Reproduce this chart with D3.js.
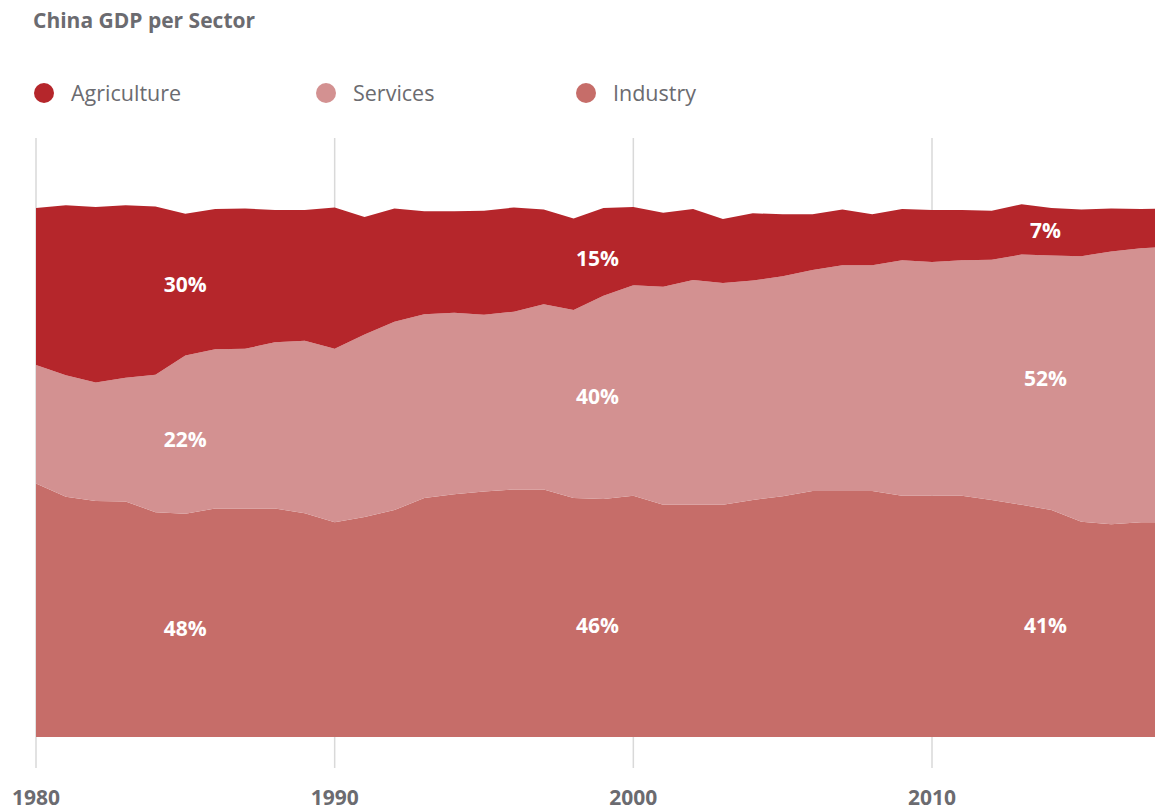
<!DOCTYPE html>
<html>
<head>
<meta charset="utf-8">
<script src="https://cdn.jsdelivr.net/npm/d3@7/dist/d3.min.js"></script>
<style>
  html, body { margin: 0; padding: 0; background: #fff; overflow: hidden; }
  svg { display: block; font-family: "Open Sans", "Noto Sans", sans-serif; }
</style>
</head>
<body>
<svg id="chart" width="1155" height="811"></svg>
<script>
// Share of GDP by sector, China (%)
const years = d3.range(1980, 2019);
const agriculture = [29.7, 32.1, 33.2, 32.6, 31.8, 26.8, 26.5, 26.5, 25.0, 24.7,
  26.7, 22.2, 21.4, 19.5, 19.2, 19.7, 19.7, 17.9, 17.3, 16.6,
  14.8, 14.0, 13.4, 12.1, 12.7, 11.7, 10.5, 10.5, 9.6, 9.7,
  9.8, 9.5, 9.3, 9.5, 9.0, 8.8, 8.1, 7.4, 7.2];
const services = [22.4, 23.0, 22.4, 23.4, 26.0, 29.9, 30.1, 30.2, 31.4, 32.6,
  32.8, 34.5, 35.6, 34.7, 34.3, 33.4, 33.6, 35.0, 35.5, 38.4,
  39.8, 41.2, 42.5, 41.9, 41.5, 41.6, 41.8, 42.7, 42.7, 44.5,
  44.2, 44.5, 45.4, 47.3, 48.1, 50.2, 51.6, 51.8, 52.1];
const industry = [47.9, 45.4, 44.6, 44.5, 42.5, 42.2, 43.2, 43.2, 43.2, 42.3,
  40.6, 41.6, 42.9, 45.2, 45.9, 46.4, 46.8, 46.8, 45.2, 45.0,
  45.6, 43.9, 43.9, 43.9, 44.8, 45.5, 46.5, 46.5, 46.5, 45.6,
  45.6, 45.6, 44.8, 43.9, 42.9, 40.7, 40.2, 40.6, 40.6];

const tickYears = [1980, 1990, 2000, 2010];
const legendNames = ["Agriculture", "Services", "Industry"];
// years whose values are written on the areas, and where the text sits
const labelYears = [1980, 2000, 2017];
const labelPlaceYears = [1985, 1998.8, 2013.8];

const colors = { Agriculture: "#b5262b", Services: "#d39191", Industry: "#c66d69" };

const rows = years.map((y, i) => ({
  year: y, Industry: industry[i], Services: services[i], Agriculture: agriculture[i]
}));

const svg = d3.select("#chart");

const x = d3.scaleLinear().domain([1980, 2010]).range([36, 932]);
const y = d3.scaleLinear().domain([0, 100]).range([737, 208]);

// vertical guide lines behind the areas
svg.append("g").selectAll("line").data(tickYears).join("line")
  .attr("x1", d => x(d)).attr("x2", d => x(d))
  .attr("y1", 138).attr("y2", 768)
  .attr("stroke", "#d9d9d9").attr("stroke-width", 1.5);

const stack = d3.stack().keys(["Industry", "Services", "Agriculture"]);
const layers = stack(rows);

const area = d3.area()
  .x(d => x(d.data.year))
  .y0(d => y(d[0]))
  .y1(d => y(d[1]));

svg.append("g").selectAll("path").data(layers).join("path")
  .attr("d", area)
  .attr("fill", d => colors[d.key]);

// value labels inside each band
const labels = [];
layers.forEach(layer => {
  labelYears.forEach((yr, j) => {
    const idx = years.indexOf(yr);
    const v = layer[idx].data[layer.key];
    labels.push({ key: layer.key, text: Math.round(v) + "%", col: j });
  });
});
// vertical anchors (percent units) for each band and column
const labelAnchor = {
  Agriculture: [85.5, 90.5, 95.8],
  Services: [56.3, 64.3, 67.7],
  Industry: [20.6, 21.0, 21.0]
};
svg.append("g").selectAll("text").data(labels).join("text")
  .attr("x", d => x(labelPlaceYears[d.col]))
  .attr("y", d => y(labelAnchor[d.key][d.col]))
  .attr("dy", "0.36em")
  .attr("text-anchor", "middle")
  .attr("fill", "#ffffff")
  .attr("font-size", 21)
  .attr("font-weight", 700)
  .text(d => d.text);

// x axis labels
svg.append("g").selectAll("text").data(tickYears).join("text")
  .attr("x", d => x(d))
  .attr("y", 805)
  .attr("text-anchor", "middle")
  .attr("fill", "#6b6b70")
  .attr("font-size", 21)
  .attr("font-weight", 700)
  .text(d => d);

// title
svg.append("text")
  .attr("x", 33).attr("y", 28)
  .attr("fill", "#6b6b70")
  .attr("font-size", 21)
  .attr("font-weight", 700)
  .text("China GDP per Sector");

// legend
const legendX = [44, 326, 586];
const legend = svg.append("g").selectAll("g").data(legendNames).join("g")
  .attr("transform", (d, i) => `translate(${legendX[i]},93)`);
legend.append("circle").attr("r", 10).attr("fill", d => colors[d]);
legend.append("text")
  .attr("x", 27).attr("dy", "0.36em")
  .attr("fill", "#6b6b70")
  .attr("font-size", 21.5)
  .text(d => d);
</script>
</body>
</html>
